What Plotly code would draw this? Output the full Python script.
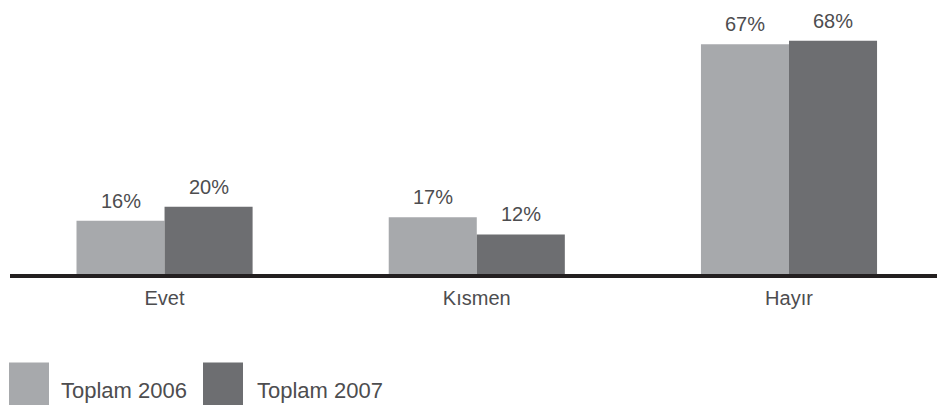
import plotly.graph_objects as go

categories = ["Evet", "Kısmen", "Hayır"]
series_names = ["Toplam 2006", "Toplam 2007"]
values_2006 = [16, 17, 67]
values_2007 = [20, 12, 68]
colors = ["#a7a9ac", "#6d6e71"]

W, H = 937, 413
L, R, T, B = 10, 0, 10, 137
PW, PH = W - L - R, H - T - B
X_RANGE = [-0.495, 2.474]
BARGAP = 0.436


def px_x(p):
    return (p - L) / PW


def px_y(p):
    return (H - B - p) / PH


FONT = "Liberation Sans, Arial, Helvetica, sans-serif"
TXT = "#4d4d4f"

fig = go.Figure()
for name, vals, col in zip(series_names, [values_2006, values_2007], colors):
    fig.add_trace(go.Bar(
        x=categories, y=vals, name=name, marker=dict(color=col, line=dict(width=0)),
        showlegend=False, hoverinfo="skip",
    ))

# value labels above each bar
unit_px = PW / (X_RANGE[1] - X_RANGE[0])
half_bar_px = (1 - BARGAP) / 2 * unit_px / 2
for k, vals in enumerate([values_2006, values_2007]):
    sign = -1 if k == 0 else 1
    for cat, v in zip(categories, vals):
        fig.add_annotation(x=cat, y=v, xref="x", yref="y", text=f"{v}%",
                           showarrow=False, xshift=sign * half_bar_px, yshift=7,
                           xanchor="center", yanchor="bottom",
                           font=dict(size=20, color=TXT, family=FONT))

fig.update_layout(
    width=W, height=H,
    margin=dict(l=L, r=R, t=T, b=B),
    paper_bgcolor="white", plot_bgcolor="white",
    barmode="group", bargap=BARGAP, bargroupgap=0,
    font=dict(family=FONT, color=TXT),
    xaxis=dict(range=X_RANGE, showgrid=False, zeroline=False, showline=False,
               ticks="", ticklabelstandoff=8,
               tickfont=dict(size=20, color=TXT, family=FONT)),
    yaxis=dict(range=[0, 266 / 3.46], visible=False),
)

fig.add_shape(type="line", xref="paper", yref="paper", x0=0, x1=1, y0=0, y1=0,
              line=dict(color="#231f20", width=4), layer="above")

# legend drawn manually (large squares)
leg_sq_x = [9, 203]
leg_txt_x = [59, 255]
for name, col, sx, tx in zip(series_names, colors, leg_sq_x, leg_txt_x):
    fig.add_shape(type="rect", xref="paper", yref="paper",
                  x0=px_x(sx), x1=px_x(sx + 40), y0=px_y(405), y1=px_y(362.5),
                  fillcolor=col, line=dict(width=0))
    fig.add_annotation(xref="paper", yref="paper", x=px_x(tx), y=px_y(390),
                       xanchor="left", yanchor="middle", text=name, showarrow=False,
                       font=dict(size=22, color=TXT, family=FONT))

fig.write_html("out.html", config={"displayModeBar": False},
               post_script="document.body.style.margin='0';document.body.style.overflow='hidden';")
